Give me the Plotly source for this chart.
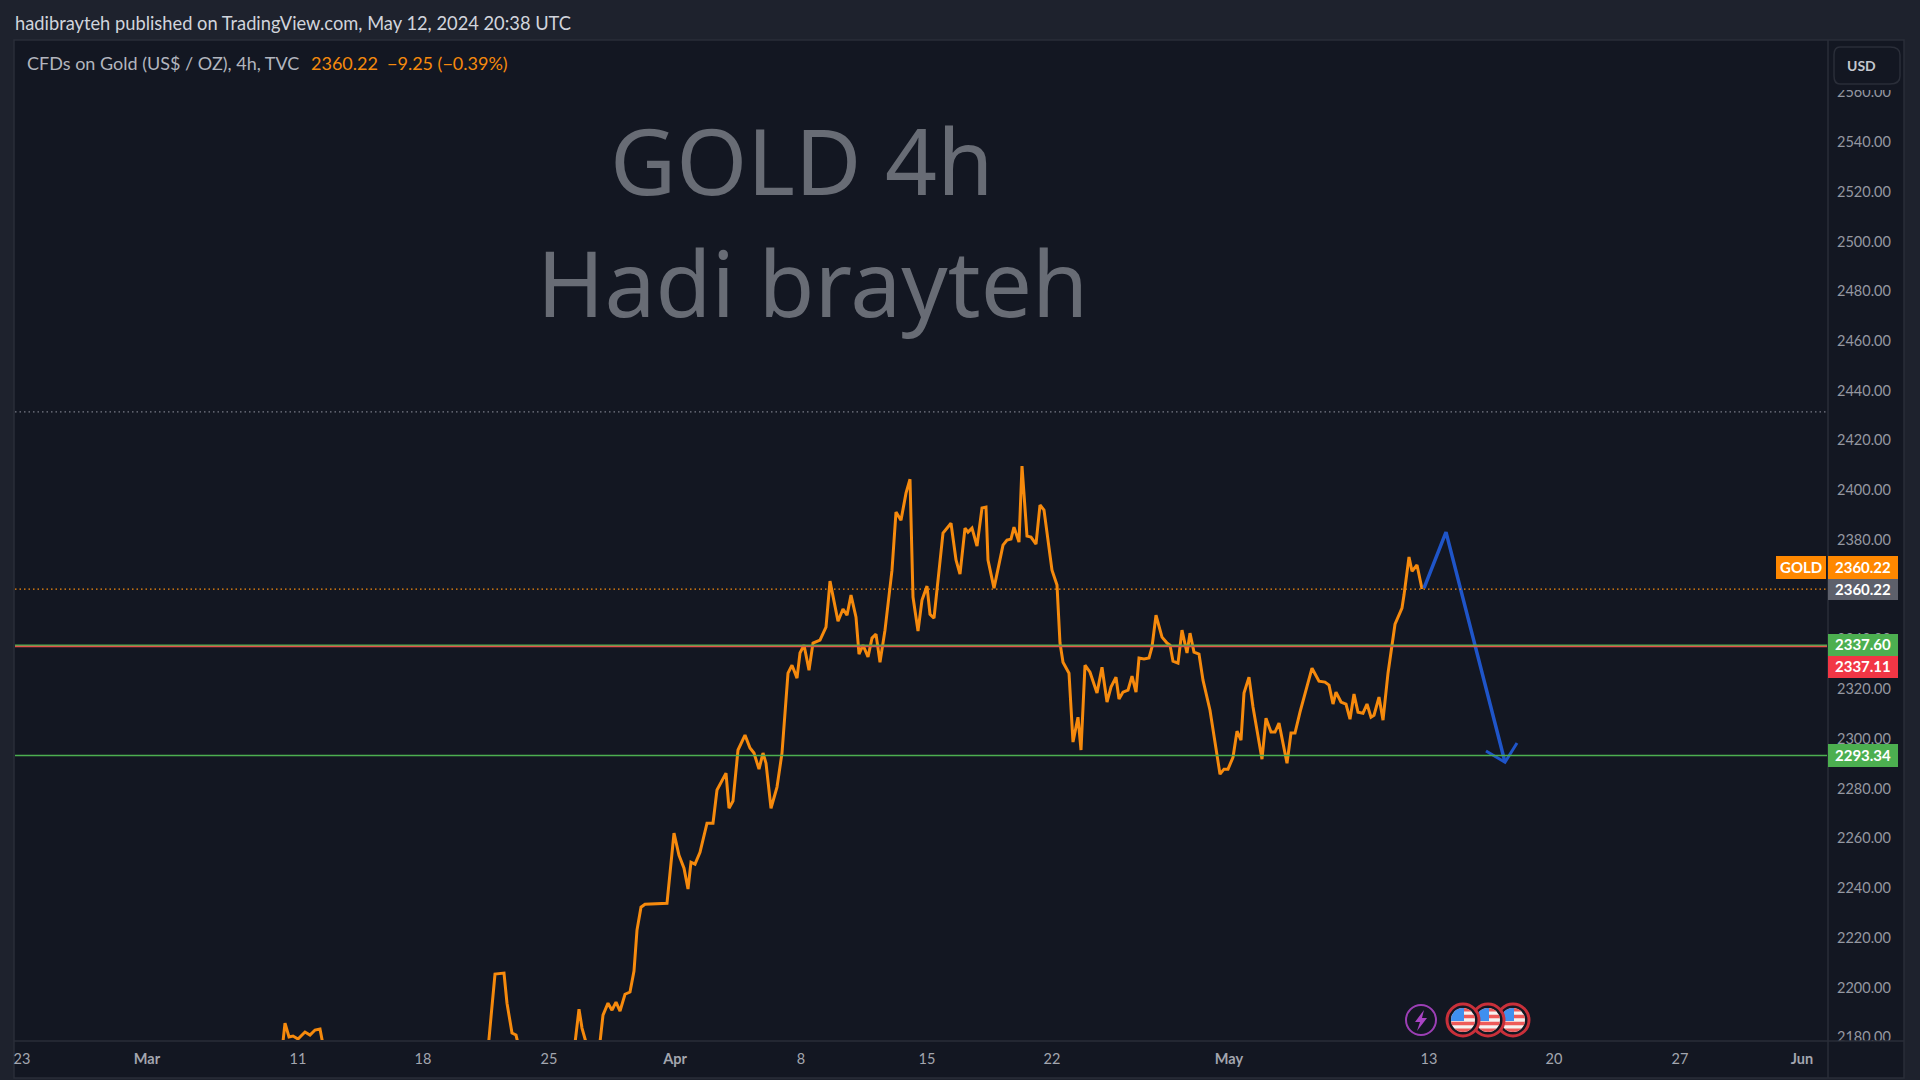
import math
import plotly.graph_objects as go

# ---- data (x = bar position on the gap-less time axis, y = price) ----
bars = [-1.75, 31.25, 50, 64.75, 65.75, 66.75, 67.75, 69, 69.75, 70.75, 72, 73.25, 74.5, 76, 94.5,
        116.25, 118.25, 120.5, 121.25, 122.5, 123.5, 125, 131.75, 137.75, 139.25, 140, 142.25, 144,
        145.25, 146.5, 147.5, 148.5, 149.5, 150.75, 152, 153, 153.75, 154.75, 155.75, 161.25, 163,
        164.25, 165.5, 166.5, 167.25, 168.25, 169.5, 171.25, 172.75, 173.75, 176, 176.75, 177.75,
        179, 180.75, 182, 183, 184.25, 185.25, 186, 187.25, 188.75, 190, 190.5, 191.5, 192.5, 193.75,
        194.5, 195.5, 196.75, 197.75, 199.5, 201, 202, 204, 205.25, 206.25, 207.25, 208.5, 209.25,
        210.25, 211.5, 212.5, 213.5, 214.5, 215.75, 216.5, 217.5, 218.5, 219.75, 221, 222, 222.75,
        224, 225, 226.25, 227, 228, 230.25, 232.25, 233.5, 234.5, 235.75, 236.5, 237.5, 238.75, 240,
        241, 241.5, 243, 245.25, 246.25, 247.25, 248, 249.25, 250, 251.25, 252.25, 253.5, 254.5,
        255.5, 257.5, 258.75, 259.5, 260.25, 261.75, 262.75, 264, 264.75, 265.75, 267, 268.75, 270,
        271.25, 272.25, 273.5, 274.25, 275.25, 276.5, 277.5, 278.5, 279.25, 280.5, 281.75, 282.5,
        283.5, 285, 286.25, 287, 287.75, 289, 290, 291.25, 292, 293, 294.25, 295.25, 297, 299.5,
        300.5, 301.5, 302.75, 303.75, 304.75, 305.5, 306.75, 307.75, 309, 310, 311, 312.25, 313.25,
        314.25, 316.25, 317.25, 318.25, 319.5, 322.5, 324.25, 325.75, 326.75, 327.75, 328.5, 329.75,
        331, 332, 333, 334, 335.25, 336.25, 337.25, 338, 339.25, 340.25, 341.5, 343.25, 345, 345.5,
        346.75, 347.5, 348.75, 350]
prices = [2025, 2085, 2150, 2170.8, 2185.7, 2180.1, 2180.5, 2179.3, 2180.5, 2182.1, 2180.9, 2182.9, 2183.3, 2170.8, 2162.8,
          2170.8, 2205.4, 2205.8, 2193.7, 2181.7, 2180.9, 2170.8, 2165, 2170.8, 2191.3, 2183.7, 2170.8, 2170.8,
          2188.9, 2193.7, 2190.9, 2194.1, 2190.5, 2197.3, 2198.2, 2206.6, 2223.1, 2232.3, 2233.5, 2233.9, 2262.1,
          2253.2, 2248, 2239.6, 2250.4, 2249.6, 2254.4, 2266.1, 2266.1, 2279.4, 2286.2, 2272.1, 2275,
          2295.5, 2301.5, 2296.3, 2294.3, 2287.8, 2294.3, 2290.2, 2272.1, 2280.6, 2294.3, 2304.7, 2326.4, 2329.6, 2324.4,
          2334.5, 2337.7, 2327.6, 2338.5, 2339.7, 2344.9, 2363.4, 2347.3, 2352.2, 2349.7, 2357.8, 2348.9, 2334.1,
          2337.7, 2332.9, 2340.5, 2342.1, 2330.8, 2343.7, 2354.6, 2367.8, 2391.2, 2387.9, 2398.8, 2404.4, 2357,
          2343.3, 2355.8, 2361.4, 2350.1, 2348.5, 2382.7, 2386.7, 2371.9, 2366.2, 2384.7, 2383.1, 2384.7, 2377.5, 2392.8,
          2393.2, 2371.9, 2360.6, 2377.9, 2379.9, 2380.3, 2385.1, 2379.1, 2409.7, 2381.5, 2381.1, 2378.3, 2394,
          2392, 2367.8, 2361.8, 2338.5, 2330.8, 2326.4, 2298.7, 2308.7, 2295.5, 2329.6, 2326.8, 2318.4, 2328.8,
          2314.8, 2320.8, 2324.8, 2316, 2318.8, 2319.6, 2325.2, 2318.8, 2332.5, 2332.1, 2332.5, 2336.9,
          2349.7, 2340.9, 2338.5, 2337.7, 2331.2, 2330.4, 2343.7, 2334.5, 2342.5, 2334.9, 2334.1, 2323.6, 2311.5, 2285.8,
          2287.8, 2287.8, 2292.6, 2303.1, 2299.5, 2318.4, 2324.8, 2312.8, 2300.7, 2291.8, 2308.3, 2302.7, 2302.7,
          2306.3, 2290.2, 2302.3, 2302.3, 2310.7, 2328.4, 2323.2, 2322.8, 2321.6, 2314, 2318.8, 2314.8,
          2314, 2307.9, 2318, 2310.7, 2310.3, 2314, 2308.7, 2309.5, 2316.8, 2307.5, 2326.4, 2346.1, 2352.6, 2357.8,
          2373.1, 2367.4, 2369.9, 2360.22]

path_bars = [350.5, 356, 370.75]
path_prices = [2360.6, 2383.1, 2290.6]
arrow_bars = [366, 370.75, 373.75]
arrow_prices = [2295.1, 2290.6, 2298.3]

tick_bars = [0, 31.25, 69, 100.25, 131.75, 163.25, 194.75, 226.25, 257.5, 301.75, 351.75, 383, 414.5, 445]
tick_text = ["23", "<b>Mar</b>", "11", "18", "25", "<b>Apr</b>", "8", "15", "22", "<b>May</b>", "13", "20", "27", "<b>Jun</b>"]
price_ticks = list(range(2180, 2561, 20))

last_price = 2360.22
support_green = 2337.60
support_red = 2337.11
lower_green = 2293.34
upper_dotted = 2431.5

PANE = "#131722"
OUTER = "#1e222d"
BORDER = "#2a2e39"
ORANGE = "#f68a0d"
FONT = "Lato"

L, T, R, B = 15, 40, 1827, 1040


def px(x):
    return (x - L) / (R - L)


def py(y):
    return (B - y) / (B - T)


shapes = []


def rect(x0, y0, x1, y1, fill, line=None, width=0, layer="above"):
    shapes.append(dict(type="rect", xref="paper", yref="paper", x0=px(x0), x1=px(x1), y0=py(y0), y1=py(y1),
                       fillcolor=fill, line=dict(color=line or fill, width=width), layer=layer))


def poly(points, fill):
    d = "M" + "L".join(f"{px(a):.5f},{py(b):.5f}" for a, b in points) + "Z"
    shapes.append(dict(type="path", xref="paper", yref="paper", path=d, fillcolor=fill, line=dict(width=0), layer="above"))


def circle(cx, cy, r, fill, line=None, width=0):
    shapes.append(dict(type="circle", xref="paper", yref="paper", x0=px(cx - r), x1=px(cx + r), y0=py(cy + r), y1=py(cy - r),
                       fillcolor=fill, line=dict(color=line or fill, width=width), layer="above"))


# panes and borders
rect(14, 40, 1904, 1078, PANE, BORDER, 1.5, "below")
rect(1829, 41, 1903, 90, PANE)
rect(1829, 1041, 1903, 1077, PANE)
shapes.append(dict(type="line", xref="paper", yref="paper", x0=px(1828), x1=px(1828), y0=py(40), y1=py(1078), line=dict(color=BORDER, width=1.5), layer="above"))
shapes.append(dict(type="line", xref="paper", yref="paper", x0=px(14), x1=px(1904), y0=py(1041), y1=py(1041), line=dict(color=BORDER, width=1.5), layer="above"))

# horizontal levels
for level, colour, dash, w in [(upper_dotted, "#787b86", "1.5px,3px", 1.3), (last_price, ORANGE, "1.5px,3px", 1.3),
                               (support_green, "#4caf50", "solid", 1.5), (support_red, "#e0524a", "solid", 1.5),
                               (lower_green, "#4caf50", "solid", 1.5)]:
    shapes.append(dict(type="line", xref="paper", yref="y", x0=0, x1=1, y0=level, y1=level,
                       line=dict(color=colour, width=w, dash=dash), layer="above"))

# USD box
shapes.append(dict(type="path", xref="paper", yref="paper", layer="above", fillcolor=PANE, line=dict(color=BORDER, width=1.5),
                   path=f"M{px(1840)},{py(47)} L{px(1890)},{py(47)} Q{px(1900)},{py(47)} {px(1900)},{py(55)} L{px(1900)},{py(76)} "
                        f"Q{px(1900)},{py(84)} {px(1890)},{py(84)} L{px(1840)},{py(84)} Q{px(1834)},{py(84)} {px(1834)},{py(76)} "
                        f"L{px(1834)},{py(55)} Q{px(1834)},{py(47)} {px(1840)},{py(47)} Z"))

# price labels
rect(1776, 556, 1826, 579, "#ff8800")
rect(1828, 556, 1898, 579, "#ff8800")
rect(1828, 579, 1898, 600, "#5d606b")
rect(1828, 634, 1898, 656, "#4caf50")
rect(1828, 656, 1898, 678, "#f23645")
rect(1828, 744, 1898, 767, "#4caf50")

# event icons
circle(1421, 1020, 15, PANE, "#9c3fb5", 2)
poly([(1424, 1010), (1415, 1022), (1420, 1022), (1417, 1031), (1427, 1018), (1422, 1018)], "#a944c4")


def flag(cx, cy):
    circle(cx, cy, 16, "#131722", "#c9303a", 3)
    r = 12
    circle(cx, cy, r, "#f5f1f1")
    for i in range(0, 7, 2):
        y0 = -r + i * 2 * r / 7
        y1 = y0 + 2 * r / 7
        pts = []
        for t in range(9):
            yy = y0 + (y1 - y0) * t / 8
            pts.append((cx + math.sqrt(max(r * r - yy * yy, 0)), cy + yy))
        for t in range(8, -1, -1):
            yy = y0 + (y1 - y0) * t / 8
            pts.append((cx - math.sqrt(max(r * r - yy * yy, 0)), cy + yy))
        poly(pts, "#ee5a5a")
    pts = [(cx + 1, cy + 1), (cx - r, cy + 1)]
    for t in range(1, 11):
        a = math.pi + (t / 10) * (math.pi / 2)
        pts.append((cx + r * math.cos(a), cy + r * math.sin(a)))
    pts.append((cx + 1, cy - r))
    poly(pts, "#3f8ff0")


for cx in [1513, 1488, 1463]:
    flag(cx, 1020)

fig = go.Figure()
fig.add_trace(go.Scatter(x=bars, y=prices, mode="lines", line=dict(color=ORANGE, width=3), hoverinfo="skip"))
fig.add_trace(go.Scatter(x=path_bars, y=path_prices, mode="lines", line=dict(color="#1f55c9", width=3.5), hoverinfo="skip"))
fig.add_trace(go.Scatter(x=arrow_bars, y=arrow_prices, mode="lines", line=dict(color="#1f55c9", width=3), hoverinfo="skip"))

ann = []


def text(x, y, s, size, colour, anchor="left", family=FONT):
    ann.append(dict(xref="paper", yref="paper", x=px(x), y=py(y), text=s, showarrow=False, xanchor=anchor, yanchor="middle",
                    font=dict(family=family, size=size, color=colour), borderpad=0, borderwidth=0))


text(15, 23, "hadibrayteh published on TradingView.com, May 12, 2024 20:38 UTC", 18.3, "#d1d4dc")
text(27, 63, "CFDs on Gold (US$ / OZ), 4h, TVC", 18, "#b2b5be")
text(311, 63, "2360.22", 18, ORANGE)
text(387, 63, "−9.25 (−0.39%)", 18, ORANGE)
text(801, 160, "GOLD 4h", 91, "#686c75", "center", "Noto Sans")
text(812, 282, "Hadi brayteh", 91, "#686c75", "center", "Noto Sans")
text(1861, 65, "<b>USD</b>", 14, "#c4c7ce", "center")
text(1801, 566.5, "<b>GOLD</b>", 15, "#ffffff", "center")
text(1863, 566.5, "<b>2360.22</b>", 15, "#ffffff", "center")
text(1863, 588.5, "<b>2360.22</b>", 15, "#ffffff", "center")
text(1863, 644, "<b>2337.60</b>", 15, "#ffffff", "center")
text(1863, 666, "<b>2337.11</b>", 15, "#ffffff", "center")
text(1863, 754.5, "<b>2293.34</b>", 15, "#ffffff", "center")

fig.update_layout(
    width=1920, height=1080, autosize=False,
    margin=dict(l=L, r=1920 - R, t=T, b=1080 - B, pad=0),
    paper_bgcolor=OUTER, plot_bgcolor="rgba(0,0,0,0)",
    showlegend=False, shapes=shapes, annotations=ann,
    font=dict(family=FONT, color="#9598a1"),
    xaxis=dict(range=[-1.75, 451.25], tickmode="array", tickvals=tick_bars, ticktext=tick_text,
               showgrid=False, zeroline=False, showline=False, ticks="", ticklabelstandoff=8,
               tickfont=dict(family=FONT, size=14.5, color="#a3a6af")),
    yaxis=dict(range=[2178.9, 2581.0], side="right", tickmode="array", tickvals=price_ticks,
               ticktext=[f"{v}.00" for v in price_ticks], showgrid=False, zeroline=False, showline=False,
               ticks="", ticklabelstandoff=9, tickfont=dict(family=FONT, size=14.5, color="#9598a1")),
)

fig.write_html("out.html", config=dict(displayModeBar=False),
               post_script="document.body.style.margin='0';document.body.style.overflow='hidden';")
